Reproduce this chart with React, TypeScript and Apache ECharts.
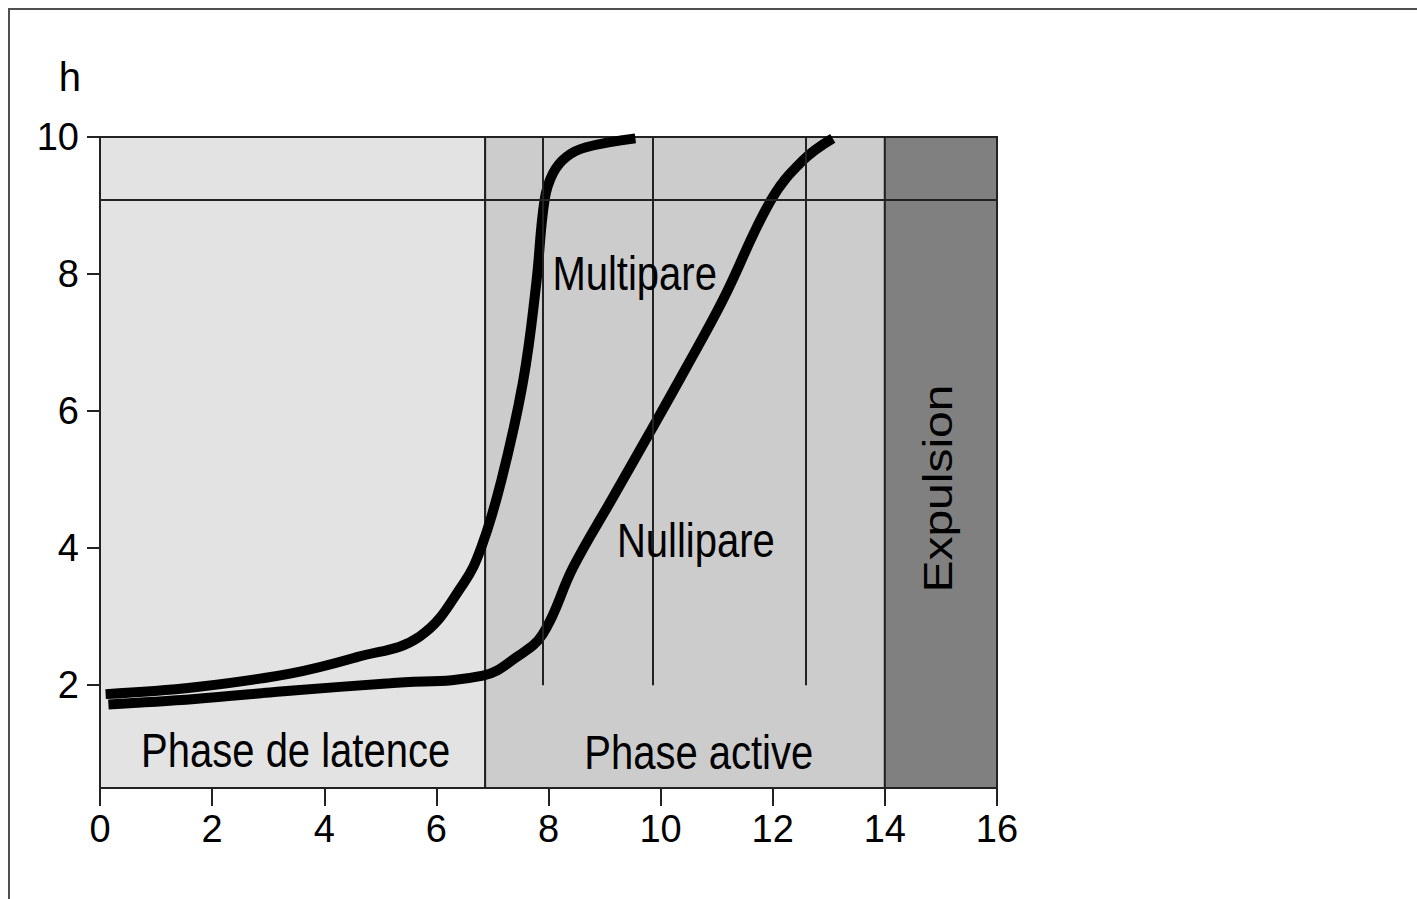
import React, { useEffect, useRef } from "react";
import * as echarts from "echarts";

// ---- data ----
const xTickLabels = [0, 2, 4, 6, 8, 10, 12, 14, 16];
const yTickValues = [2, 4, 6, 8, 10];

const multipareX = [0.1, 1.69, 3.39, 4.58, 5.7, 6.48, 6.8, 7.16, 7.55, 7.78, 7.93, 8.08, 8.32, 8.67, 9.55];
const multipareY = [1.87, 1.97, 2.17, 2.41, 2.71, 3.48, 4.01, 4.99, 6.45, 7.85, 9.08, 9.47, 9.71, 9.85, 9.98];

const nulliX = [0.15, 1.69, 3.39, 5.17, 6.83, 7.43, 7.9, 8.44, 9.12, 9.83, 10.46, 11.11, 11.97, 12.54, 13.07];
const nulliY = [1.72, 1.8, 1.92, 2.03, 2.14, 2.41, 2.75, 3.72, 4.7, 5.72, 6.64, 7.62, 9.08, 9.66, 9.98];

const phaseNames = ["Phase de latence", "Phase active", "Expulsion"];
const phaseStart = [0, 6.87, 14];
const phaseEnd = [6.87, 14, 16];

const dilationLineY = 9.08;
const verticalLinesX = [7.9, 9.86, 12.59];
const verticalLineFrom = 2.0;
const verticalLineTo = 10;

const FONT = "'Liberation Sans', Arial, Helvetica, sans-serif";
const phaseColors = ["#e3e3e3", "#cccccc", "#808080"];

export default function App() {
  const ref = useRef<HTMLDivElement>(null);

  useEffect(() => {
    const chart = echarts.init(ref.current as HTMLDivElement, null, { renderer: "svg" });

    const option: any = {
      animation: false,
      backgroundColor: "#ffffff",
      grid: { left: 90, top: 127, width: 897, height: 651, show: false },
      xAxis: {
        type: "value",
        min: 0,
        max: 16,
        interval: 2,
        axisLine: { show: true, onZero: false, lineStyle: { color: "#222", width: 2 } },
        axisTick: { show: true, length: 18, lineStyle: { color: "#222", width: 2 } },
        axisLabel: {
          fontSize: 38,
          color: "#000",
          margin: 22,
          fontFamily: FONT,
          customValues: xTickLabels,
        },
        splitLine: { show: false },
      },
      yAxis: {
        type: "value",
        min: 0.5,
        max: 10,
        name: "h",
        nameLocation: "end",
        nameGap: 40,
        nameTextStyle: {
          fontSize: 40,
          color: "#000",
          fontFamily: FONT,
          align: "right",
          verticalAlign: "bottom",
          padding: [0, 19, 0, 0],
        },
        axisLine: { show: true, onZero: false, lineStyle: { color: "#222", width: 2 } },
        axisTick: { show: true, length: 13, customValues: yTickValues, lineStyle: { color: "#222", width: 2 } },
        axisLabel: {
          fontSize: 38,
          color: "#000",
          margin: 21,
          fontFamily: FONT,
          customValues: yTickValues,
        },
        splitLine: { show: false },
      },
      series: [
        {
          name: "Nullipare",
          type: "line",
          data: nulliX.map((x, i) => [x, nulliY[i]]),
          smooth: 0.4,
          symbol: "none",
          clip: false,
          lineStyle: { color: "#000", width: 10 },
          z: 4,
          markArea: {
            silent: true,
            data: phaseStart.map((s, i) => [
              {
                name: phaseNames[i],
                xAxis: s,
                itemStyle: { color: phaseColors[i], borderColor: "#222", borderWidth: 2 },
              },
              { xAxis: phaseEnd[i] },
            ]),
            label: { show: false },
          },
          markLine: {
            silent: true,
            symbol: ["none", "none"],
            label: { show: false },
            lineStyle: { color: "#222", width: 2, type: "solid" },
            data: [
              { yAxis: dilationLineY },
              ...verticalLinesX.map((x) => [
                { coord: [x, verticalLineFrom] },
                { coord: [x, verticalLineTo] },
              ]),
            ],
          },
        },
        {
          name: "Multipare",
          type: "line",
          data: multipareX.map((x, i) => [x, multipareY[i]]),
          smooth: 0.4,
          symbol: "none",
          clip: false,
          lineStyle: { color: "#000", width: 10 },
          z: 4,
        },
      ],
    };

    chart.setOption(option);

    const annotations = [
      { text: "Multipare", x: 8.07, y: 8.01, align: "left", rotate: false },
      { text: "Nullipare", x: 9.22, y: 4.11, align: "left", rotate: false },
      { text: phaseNames[0], x: 3.49, y: 1.05, align: "center", rotate: false },
      { text: phaseNames[1], x: 10.68, y: 1.03, align: "center", rotate: false },
      { text: phaseNames[2], x: 14.94, y: 4.87, align: "center", rotate: true },
    ];

    const graphic = annotations.map((a) => {
      const p = chart.convertToPixel({ gridIndex: 0 }, [a.x, a.y]) as number[];
      return {
        type: "text",
        x: p[0],
        y: p[1],
        rotation: a.rotate ? Math.PI / 2 : 0,
        scaleX: a.rotate ? 1.2 : 1,
        scaleY: a.rotate ? 1 : 1.2,
        z: 100,
        silent: true,
        style: {
          text: a.text,
          fontSize: 40,
          fontFamily: FONT,
          fill: "#000",
          align: a.align,
          verticalAlign: "middle",
          textAlign: a.align,
          textVerticalAlign: "middle",
        },
      };
    });
    chart.setOption({ graphic });

    return () => chart.dispose();
  }, []);

  return (
    <div
      style={{
        position: "fixed",
        left: 8,
        top: 8,
        width: 1420,
        height: 900,
        borderTop: "2px solid #505050",
        borderLeft: "2px solid #505050",
        boxSizing: "border-box",
        overflow: "hidden",
        background: "#fff",
      }}
    >
      <div ref={ref} style={{ width: 1399, height: 881 }} />
    </div>
  );
}
